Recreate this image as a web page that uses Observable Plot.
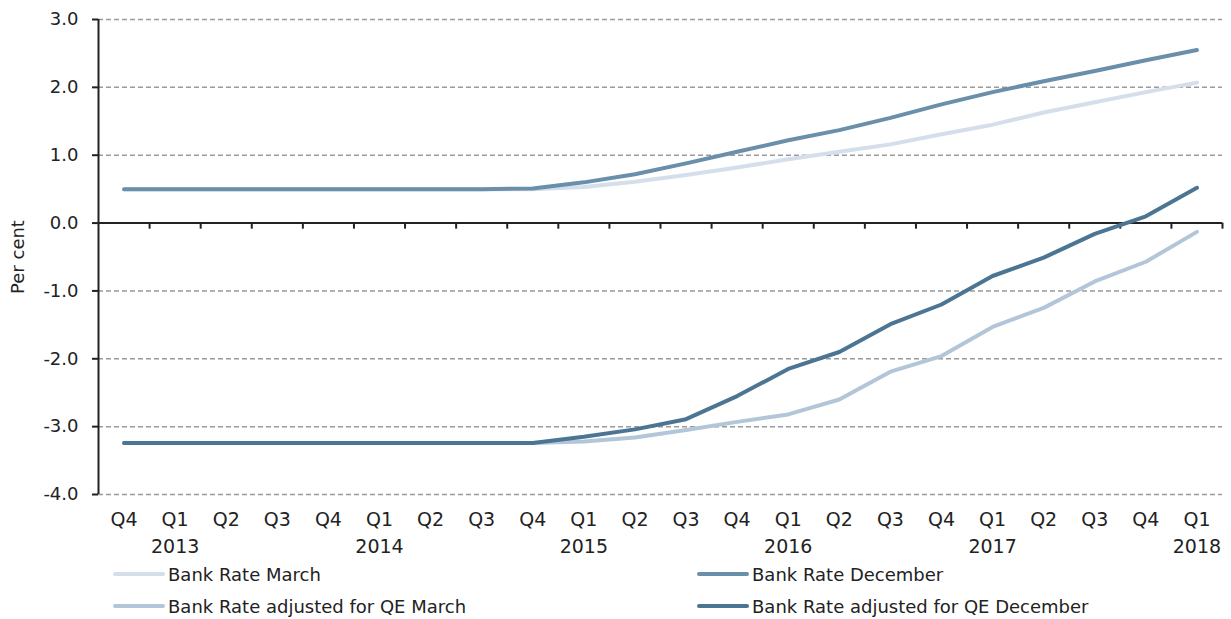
<!DOCTYPE html>
<html>
<head>
<meta charset="utf-8">
<script src="https://cdn.jsdelivr.net/npm/d3@7"></script>
<script src="https://cdn.jsdelivr.net/npm/@observablehq/plot@0.6"></script>
<style>
  body { margin: 0; background: #fff; }
  #wrap { position: relative; width: 1231px; height: 619px; font-family: "DejaVu Sans", sans-serif; color: #222; }
  #wrap svg { overflow: visible; }
  .leg { position: absolute; display: flex; align-items: center; font-size: 18px; height: 24px; white-space: nowrap; }
  .sw { display: inline-block; width: 52px; height: 4px; border-radius: 2px; margin-right: 3px; }
</style>
</head>
<body>
<div id="wrap"></div>
<script>
const quarters = ["Q4","Q1","Q2","Q3","Q4","Q1","Q2","Q3","Q4","Q1","Q2","Q3","Q4","Q1","Q2","Q3","Q4","Q1","Q2","Q3","Q4","Q1"];
const years    = ["","2013","","","","2014","","","","2015","","","","2016","","","","2017","","","","2018"];
const yTicks = [-4,-3,-2,-1,0,1,2,3];

const bankRateMarch = [0.5,0.5,0.5,0.5,0.5,0.5,0.5,0.5,0.5,0.53,0.61,0.71,0.82,0.94,1.05,1.16,1.31,1.45,1.63,1.78,1.93,2.07];
const bankRateDec   = [0.5,0.5,0.5,0.5,0.5,0.5,0.5,0.5,0.51,0.6,0.72,0.88,1.05,1.22,1.37,1.55,1.75,1.93,2.09,2.24,2.40,2.55];
const qeMarch       = [-3.24,-3.24,-3.24,-3.24,-3.24,-3.24,-3.24,-3.24,-3.24,-3.22,-3.16,-3.05,-2.93,-2.82,-2.6,-2.19,-1.96,-1.53,-1.25,-0.86,-0.57,-0.13];
const qeDec         = [-3.24,-3.24,-3.24,-3.24,-3.24,-3.24,-3.24,-3.24,-3.24,-3.15,-3.04,-2.89,-2.55,-2.15,-1.9,-1.49,-1.2,-0.78,-0.51,-0.16,0.1,0.52];

const seriesNames = ["Bank Rate March","Bank Rate December","Bank Rate adjusted for QE March","Bank Rate adjusted for QE December"];
const seriesColors = ["#d5dfeb","#6a8fab","#b3c6d9","#4b7593"];
const seriesData = [bankRateMarch, bankRateDec, qeMarch, qeDec];

const idx = d3.range(quarters.length);
const bounds = d3.range(quarters.length).map(i => i + 0.5);
const tickDepth = 0.09;

const chart = Plot.plot({
  width: 1231,
  height: 562,
  marginTop: 19,
  marginBottom: 68,
  marginLeft: 98,
  marginRight: 9,
  style: { fontFamily: "DejaVu Sans, sans-serif", fontSize: "18px", color: "#222", background: "transparent", overflow: "visible" },
  x: { domain: [-0.5, quarters.length - 0.5], axis: null },
  y: { domain: [-4, 3], axis: null },
  marks: [
    Plot.gridY(yTicks.filter(d => d !== 0), { stroke: "#9a9a9a", strokeOpacity: 1, strokeWidth: 1.5, strokeDasharray: "5,3" }),
    Plot.ruleY([0], { stroke: "#222", strokeWidth: 2 }),
    Plot.ruleX(bounds, { x: d => d, y1: 0, y2: -tickDepth, stroke: "#222", strokeWidth: 2 }),
    Plot.ruleX([-0.5], { stroke: "#222", strokeWidth: 2 }),
    Plot.axisY({ ticks: yTicks, tickSize: 6, tickPadding: 14, tickFormat: d => d.toFixed(1), stroke: "#222", strokeWidth: 2, fontSize: 18, label: null }),
    Plot.axisX({ ticks: idx, tickSize: 0, tickPadding: 12, fontSize: 19, lineHeight: 1.42, label: null,
      tickFormat: i => years[i] ? quarters[i] + "\n" + years[i] : quarters[i] }),
    Plot.text(["Per cent"], { frameAnchor: "left", dx: -80, rotate: -90, textAnchor: "middle", lineAnchor: "middle", fontSize: 18, fill: "#222" }),
    ...seriesData.map((vals, k) => Plot.line(vals, { x: (d, i) => i, y: d => d, stroke: seriesColors[k], strokeWidth: 4, strokeLinejoin: "round", strokeLinecap: "round" }))
  ]
});

const wrap = document.getElementById("wrap");
wrap.appendChild(chart);

const legendPos = [[113, 562], [697, 562], [113, 594], [697, 594]];
seriesNames.forEach((name, k) => {
  const el = document.createElement("div");
  el.className = "leg";
  el.style.left = legendPos[k][0] + "px";
  el.style.top = legendPos[k][1] + "px";
  const sw = document.createElement("span");
  sw.className = "sw";
  sw.style.background = seriesColors[k];
  el.appendChild(sw);
  el.appendChild(document.createTextNode(name));
  wrap.appendChild(el);
});
</script>
</body>
</html>
